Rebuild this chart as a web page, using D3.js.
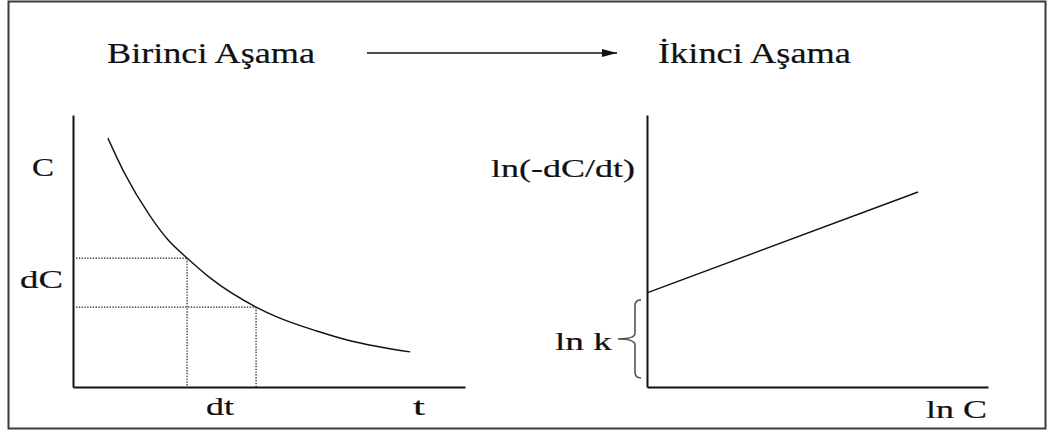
<!DOCTYPE html>
<html>
<head>
<meta charset="utf-8">
<script src="https://cdn.jsdelivr.net/npm/d3@7"></script>
<style>
  html, body { margin: 0; padding: 0; background: #fff; }
  svg { display: block; }
</style>
</head>
<body>
<svg id="chart" width="1062" height="436"></svg>
<script>
// Stage 1: concentration C against time t (decay curve)
const decayT = [0.89, 1.30, 1.96, 2.40, 2.91, 3.49, 4.67, 5.20, 6.22, 7.07, 8.60];
const decayC = [9.15, 7.90, 6.30, 5.45, 4.74, 4.02, 2.94, 2.58, 2.06, 1.70, 1.29];
// The two sampled instants that define dC and dt
const stepIdx = [4, 6];

// Stage 2: ln(-dC/dt) against ln C (straight line, intercept ln k)
const lnC = [0, 7.95];
const lnRate = [3.46, 7.17];

const titles = ["Birinci Aşama", "İkinci Aşama"];
const leftLabels = { y: "C", dy: "dC", dx: "dt", x: "t" };
const rightLabels = { y: "ln(-dC/dt)", k: "ln k", x: "ln C" };

const svg = d3.select("#chart");

// outer frame
svg.append("rect")
  .attr("x", 8.5).attr("y", 1.5).attr("width", 1037).attr("height", 427)
  .attr("fill", "none").attr("stroke", "#3a3a3a").attr("stroke-width", 2);

// stretched serif text helper
function label(x, y, str, size, width) {
  return svg.append("text")
    .attr("x", x).attr("y", y)
    .style("font-family", "'Liberation Serif', 'Times New Roman', serif")
    .style("font-size", size + "px")
    .attr("fill", "#111")
    .attr("stroke", "#111").attr("stroke-width", 0.2)
    .attr("textLength", width).attr("lengthAdjust", "spacingAndGlyphs")
    .text(str);
}

// titles and connecting arrow
label(107, 63, titles[0], 29, 208);
label(658, 63, titles[1], 29, 193);
svg.append("defs").append("marker")
  .attr("id", "head").attr("viewBox", "0 0 15 8")
  .attr("refX", 15).attr("refY", 4)
  .attr("markerWidth", 15).attr("markerHeight", 8)
  .attr("markerUnits", "userSpaceOnUse").attr("orient", "auto")
  .append("path").attr("d", "M0,0 L15,4 L0,8 Z").attr("fill", "#111");
svg.append("line")
  .attr("x1", 367).attr("y1", 53).attr("x2", 617).attr("y2", 53)
  .attr("stroke", "#111").attr("stroke-width", 1.3)
  .attr("marker-end", "url(#head)");

// ---------- left panel ----------
const xL = d3.scaleLinear().domain([0, 10]).range([73, 465]);
const yL = d3.scaleLinear().domain([0, 10]).range([387, 115]);

const axisStyle = g => g.select(".domain").attr("stroke", "#111").attr("stroke-width", 2);
svg.append("g").attr("transform", `translate(0,${yL(0)})`)
  .call(d3.axisBottom(xL).tickValues([]).tickSizeOuter(0)).call(axisStyle);
svg.append("g").attr("transform", `translate(${xL(0)},0)`)
  .call(d3.axisLeft(yL).tickValues([]).tickSizeOuter(0)).call(axisStyle);

const decay = decayT.map((t, i) => [t, decayC[i]]);
svg.append("path")
  .datum(decay)
  .attr("fill", "none").attr("stroke", "#111").attr("stroke-width", 1.4)
  .attr("d", d3.line().x(d => xL(d[0])).y(d => yL(d[1])).curve(d3.curveMonotoneX));

// dotted guides at the two sampled instants
stepIdx.forEach(i => {
  const [t, c] = decay[i];
  svg.append("line")
    .attr("x1", xL(0) + 3).attr("x2", xL(t)).attr("y1", yL(c)).attr("y2", yL(c))
    .attr("stroke", "#222").attr("stroke-width", 1.2).attr("stroke-dasharray", "1.4,1.4");
  svg.append("line")
    .attr("x1", xL(t)).attr("x2", xL(t)).attr("y1", yL(c)).attr("y2", yL(0))
    .attr("stroke", "#222").attr("stroke-width", 1.2).attr("stroke-dasharray", "1.4,1.4");
});

label(32, 176, leftLabels.y, 26, 22);
label(20, 288, leftLabels.dy, 26, 43);
label(206, 415, leftLabels.dx, 26, 28);
label(413, 415, leftLabels.x, 26, 12);

// ---------- right panel ----------
const xR = d3.scaleLinear().domain([0, 10]).range([647, 988]);
const yR = d3.scaleLinear().domain([0, 10]).range([387, 115]);

svg.append("g").attr("transform", `translate(0,${yR(0)})`)
  .call(d3.axisBottom(xR).tickValues([]).tickSizeOuter(0)).call(axisStyle);
svg.append("g").attr("transform", `translate(${xR(0)},0)`)
  .call(d3.axisLeft(yR).tickValues([]).tickSizeOuter(0)).call(axisStyle);

svg.append("path")
  .datum(lnC.map((v, i) => [v, lnRate[i]]))
  .attr("fill", "none").attr("stroke", "#111").attr("stroke-width", 1.4)
  .attr("d", d3.line().x(d => xR(d[0])).y(d => yR(d[1])));

// curly brace marking the intercept ln k
const bTop = yR(lnRate[0]) + 7, bBot = yR(0) - 9;
const bMid = (bTop + bBot) / 2;
const bx = xR(0) - 12, tip = bx - 17, r = 6;
svg.append("path")
  .attr("fill", "none").attr("stroke", "#555").attr("stroke-width", 1.6)
  .attr("d", `M${bx + r},${bTop} Q${bx},${bTop} ${bx},${bTop + r}
              L${bx},${bMid - r} Q${bx},${bMid} ${tip},${bMid}
              Q${bx},${bMid} ${bx},${bMid + r}
              L${bx},${bBot - r} Q${bx},${bBot} ${bx + r},${bBot}`);

label(491, 177, rightLabels.y, 26, 144);
label(555, 350, rightLabels.k, 26, 57);
label(926, 418, rightLabels.x, 26, 61);
</script>
</body>
</html>
